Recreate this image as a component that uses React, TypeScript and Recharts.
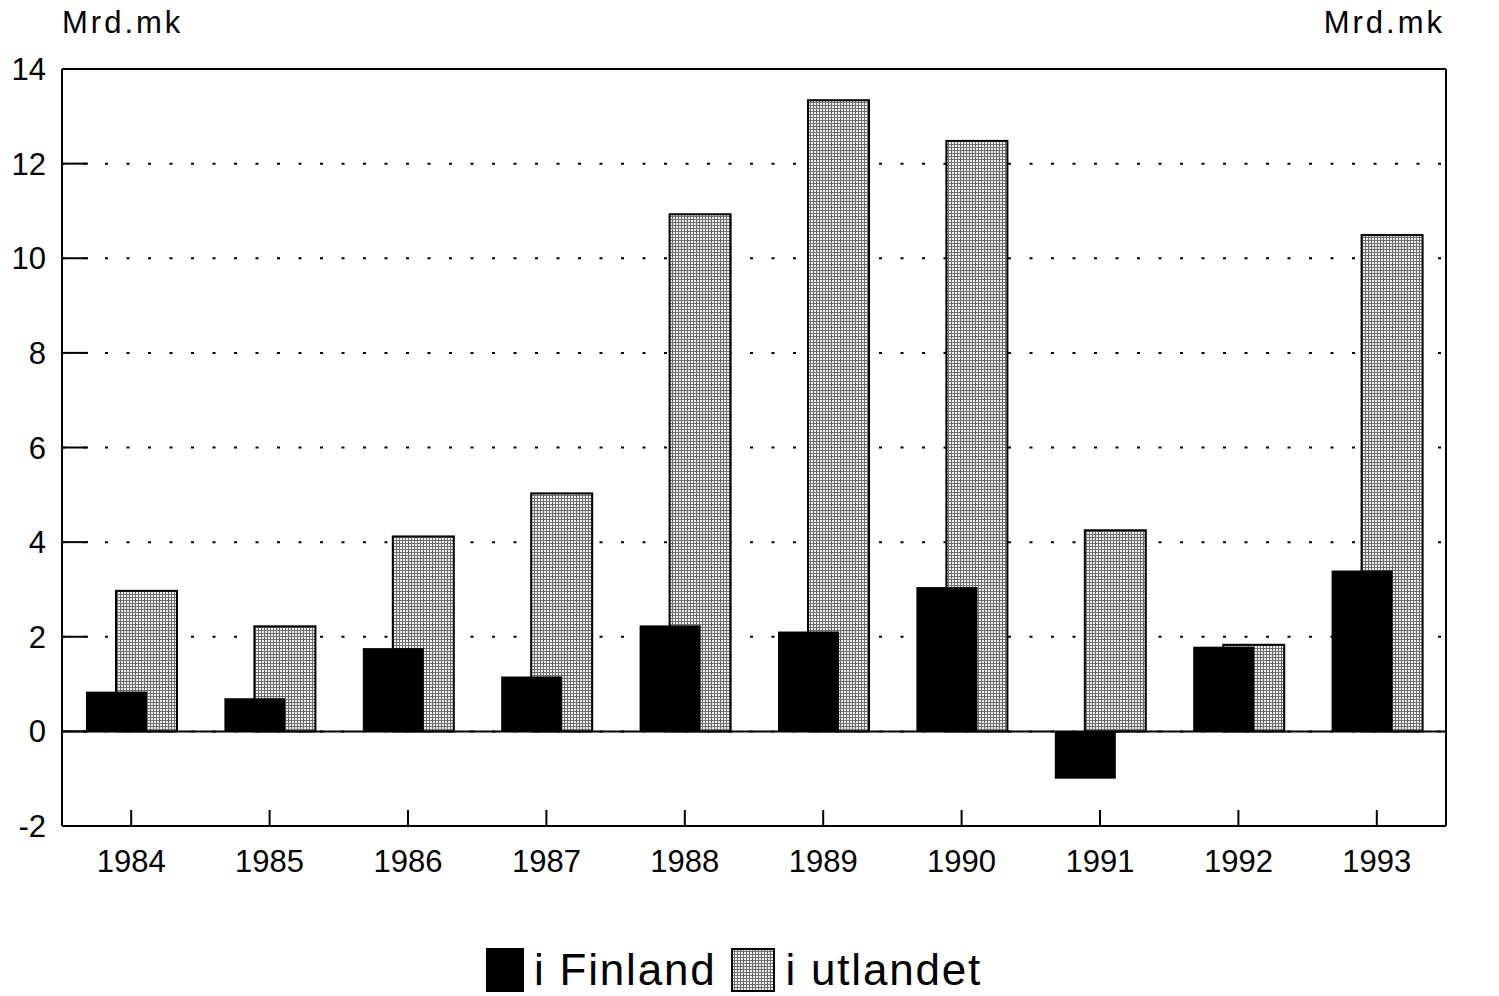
import { BarChart, Bar, XAxis, YAxis, CartesianGrid, ReferenceLine } from 'recharts';

const years = ['1984', '1985', '1986', '1987', '1988', '1989', '1990', '1991', '1992', '1993'];
const iFinland = [0.84, 0.7, 1.76, 1.16, 2.24, 2.11, 3.05, -1.0, 1.79, 3.4];
const iUtlandet = [2.97, 2.22, 4.12, 5.03, 10.93, 13.34, 12.48, 4.25, 1.83, 10.49];
const yTicks = [-2, 0, 2, 4, 6, 8, 10, 12, 14];

const data = years.map((year, i) => ({ year, fin: iFinland[i], utl: iUtlandet[i] }));

const FONT = '"Liberation Sans", Arial, Helvetica, sans-serif';

// bars share one slot, then get nudged apart so the black one overlaps the grey one
const shiftedBar = (dx: number, fill: string, stroke?: string) => (props: any) => {
  const { x, y, width, height } = props;
  const top = height < 0 ? y + height : y;
  return (
    <rect
      x={x + dx}
      y={top}
      width={width}
      height={Math.abs(height)}
      fill={fill}
      stroke={stroke || 'none'}
      strokeWidth={stroke ? 2 : 0}
    />
  );
};

const tickStyle = { fontSize: 31, fill: '#000', fontFamily: FONT };
const lineStyle = { stroke: '#000', strokeWidth: 2 };

function PatternSwatch({ size }: { size: number }) {
  return (
    <svg width={size} height={size} style={{ display: 'block' }}>
      <defs>
        <pattern id="legendDots" width="3" height="3" patternUnits="userSpaceOnUse">
          <rect width="3" height="3" fill="#f0f0f0" />
          <path d="M0 0.5H3M0.5 0V3" stroke="#6e6e6e" strokeWidth="1" />
        </pattern>
      </defs>
      <rect x={1} y={1} width={size - 2} height={size - 2} fill="url(#legendDots)" stroke="#000" strokeWidth={2} />
    </svg>
  );
}

export default function App() {
  return (
    <div style={{ position: 'absolute', left: 0, top: 0, width: 1499, height: 996, background: '#fff', fontFamily: FONT }}>
      <div style={{ position: 'absolute', left: 62, top: 7, fontSize: 31, lineHeight: 1, letterSpacing: 3 }}>Mrd.mk</div>
      <div style={{ position: 'absolute', right: 54, top: 7, fontSize: 31, lineHeight: 1, letterSpacing: 3 }}>Mrd.mk</div>

      <BarChart
        width={1499}
        height={996}
        data={data}
        margin={{ top: 69, right: 0, bottom: 0, left: 0 }}
        barGap={-61}
        barSize={61}
      >
        <defs>
          <pattern id="dots" width="3" height="3" patternUnits="userSpaceOnUse">
            <rect width="3" height="3" fill="#f0f0f0" />
            <path d="M0 0.5H3M0.5 0V3" stroke="#6e6e6e" strokeWidth="1" />
          </pattern>
        </defs>
        <CartesianGrid
          yAxisId="left"
          horizontal
          vertical={false}
          stroke="#000"
          strokeWidth={2}
          strokeDasharray="3 18.5"
        />
        <XAxis
          dataKey="year"
          height={170}
          interval={0}
          tick={tickStyle}
          tickSize={-16}
          tickMargin={40}
          tickLine={lineStyle}
          axisLine={lineStyle}
        />
        <YAxis
          yAxisId="left"
          width={62}
          domain={[-2, 14]}
          ticks={yTicks}
          interval={0}
          tick={tickStyle}
          tickSize={-26}
          tickMargin={42}
          tickLine={lineStyle}
          axisLine={lineStyle}
        />
        <YAxis
          yAxisId="right"
          orientation="right"
          width={53}
          domain={[-2, 14]}
          ticks={yTicks}
          interval={0}
          tick={tickStyle}
          tickSize={-26}
          tickMargin={42}
          tickLine={lineStyle}
          axisLine={lineStyle}
        />
        <Bar yAxisId="left" dataKey="utl" isAnimationActive={false} shape={shiftedBar(15, 'url(#dots)', '#000')} />
        <Bar yAxisId="left" dataKey="fin" isAnimationActive={false} shape={shiftedBar(-15, '#000')} />
        <ReferenceLine yAxisId="left" y={0} stroke="#000" strokeWidth={2} />
        <ReferenceLine yAxisId="left" y={14} stroke="#000" strokeWidth={2} />
      </BarChart>

      <div
        style={{
          position: 'absolute',
          left: 0,
          top: 948,
          width: 1468,
          display: 'flex',
          justifyContent: 'center',
          alignItems: 'center',
          fontSize: 44,
          lineHeight: 1,
          letterSpacing: 1.8,
        }}
      >
        <div style={{ width: 38, height: 44, background: '#000', marginRight: 10 }} />
        <span style={{ marginRight: 15 }}>i Finland</span>
        <div style={{ marginRight: 10 }}>
          <PatternSwatch size={44} />
        </div>
        <span>i utlandet</span>
      </div>
    </div>
  );
}
